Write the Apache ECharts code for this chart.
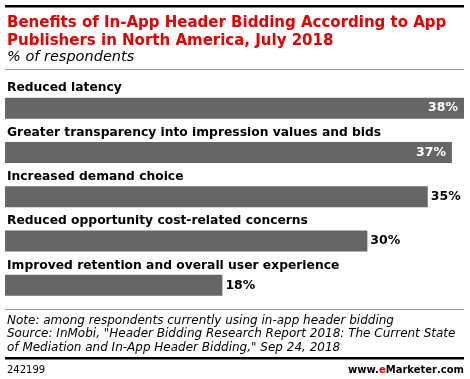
<!DOCTYPE html>
<html>
<head>
<meta charset="utf-8">
<script src="https://cdn.jsdelivr.net/npm/echarts@6/dist/echarts.min.js"></script>
<style>
html,body{margin:0;padding:0;background:#fff;}
#c{width:470px;height:379px;}
</style>
</head>
<body>
<div id="c"></div>
<script>
const titleLines = ["Benefits of In-App Header Bidding According to App", "Publishers in North America, July 2018"];
const subtitle = "% of respondents";
const categories = [
  "Reduced latency",
  "Greater transparency into impression values and bids",
  "Increased demand choice",
  "Reduced opportunity cost-related concerns",
  "Improved retention and overall user experience"
];
const values = [38, 37, 35, 30, 18];
const noteLines = [
  "Note: among respondents currently using in-app header bidding",
  "Source: InMobi, \"Header Bidding Research Report 2018: The Current State",
  "of Mediation and In-App Header Bidding,\" Sep 24, 2018"
];
const chartId = "242199";

const FONT = "DejaVu Sans";
const chart = echarts.init(document.getElementById('c'), null, {renderer: 'canvas'});

const data = values.map(v => {
  const inside = v >= 36;
  return {
    value: v,
    label: inside
      ? {position: 'insideRight', distance: 6, color: '#fff'}
      : {position: 'right', distance: 3, color: '#000'}
  };
});

chart.setOption({
  animation: false,
  backgroundColor: '#fff',
  title: [
    {text: titleLines.join('\n'), left: 7, top: 14, padding: 0,
     textStyle: {fontFamily: FONT, fontWeight: 'bold', fontSize: 15, color: '#e60000', lineHeight: 18}},
    {text: subtitle, left: 7, top: 50, padding: 0,
     textStyle: {fontFamily: FONT, fontStyle: 'italic', fontWeight: 'normal', fontSize: 14.5, color: '#000'}},
    {text: noteLines.join('\n'), left: 7, top: 314, padding: 0,
     textStyle: {fontFamily: FONT, fontStyle: 'italic', fontWeight: 'normal', fontSize: 12, color: '#000', lineHeight: 13.5}},
    {text: chartId, left: 7, top: 365, padding: 0,
     textStyle: {fontFamily: FONT, fontWeight: 'normal', fontSize: 10, color: '#000'}},
    {text: '{a|www.}{e|e}{b|Marketer}{a|.com}', right: 6, top: 365, padding: 0,
     textStyle: {fontFamily: FONT, fontSize: 10, color: '#000',
       rich: {
         a: {fontFamily: FONT, fontSize: 10, color: '#000'},
         e: {fontFamily: FONT, fontSize: 10, fontWeight: 'bold', color: '#e60000'},
         b: {fontFamily: FONT, fontSize: 10, fontWeight: 'bold', color: '#000'}
       }}}
  ],
  graphic: [
    {type: 'rect', shape: {x: 5, y: 5, width: 459, height: 2.5}, style: {fill: '#000'}},
    {type: 'rect', shape: {x: 5, y: 69, width: 459, height: 1}, style: {fill: '#999'}},
    {type: 'rect', shape: {x: 5, y: 309, width: 459, height: 1}, style: {fill: '#999'}},
    {type: 'rect', shape: {x: 5, y: 357, width: 459, height: 2.5}, style: {fill: '#000'}}
  ],
  grid: {left: 5, right: 6, top: 86, height: 221.5, containLabel: false},
  xAxis: {type: 'value', min: 0, max: 38, show: false},
  yAxis: {
    type: 'category', data: categories, inverse: true,
    axisLine: {show: false}, axisTick: {show: false}, splitLine: {show: false},
    axisLabel: {inside: true, margin: 2, verticalAlign: 'bottom', padding: [0, 0, 14, 0],
      fontFamily: FONT, fontWeight: 'bold', fontSize: 12.3, color: '#000'}
  },
  series: [{
    type: 'bar', data: data, barWidth: 21,
    itemStyle: {color: '#666666'},
    label: {show: true, formatter: '{c}%', fontFamily: FONT, fontWeight: 'bold', fontSize: 12.5}
  }]
});
</script>
</body>
</html>
